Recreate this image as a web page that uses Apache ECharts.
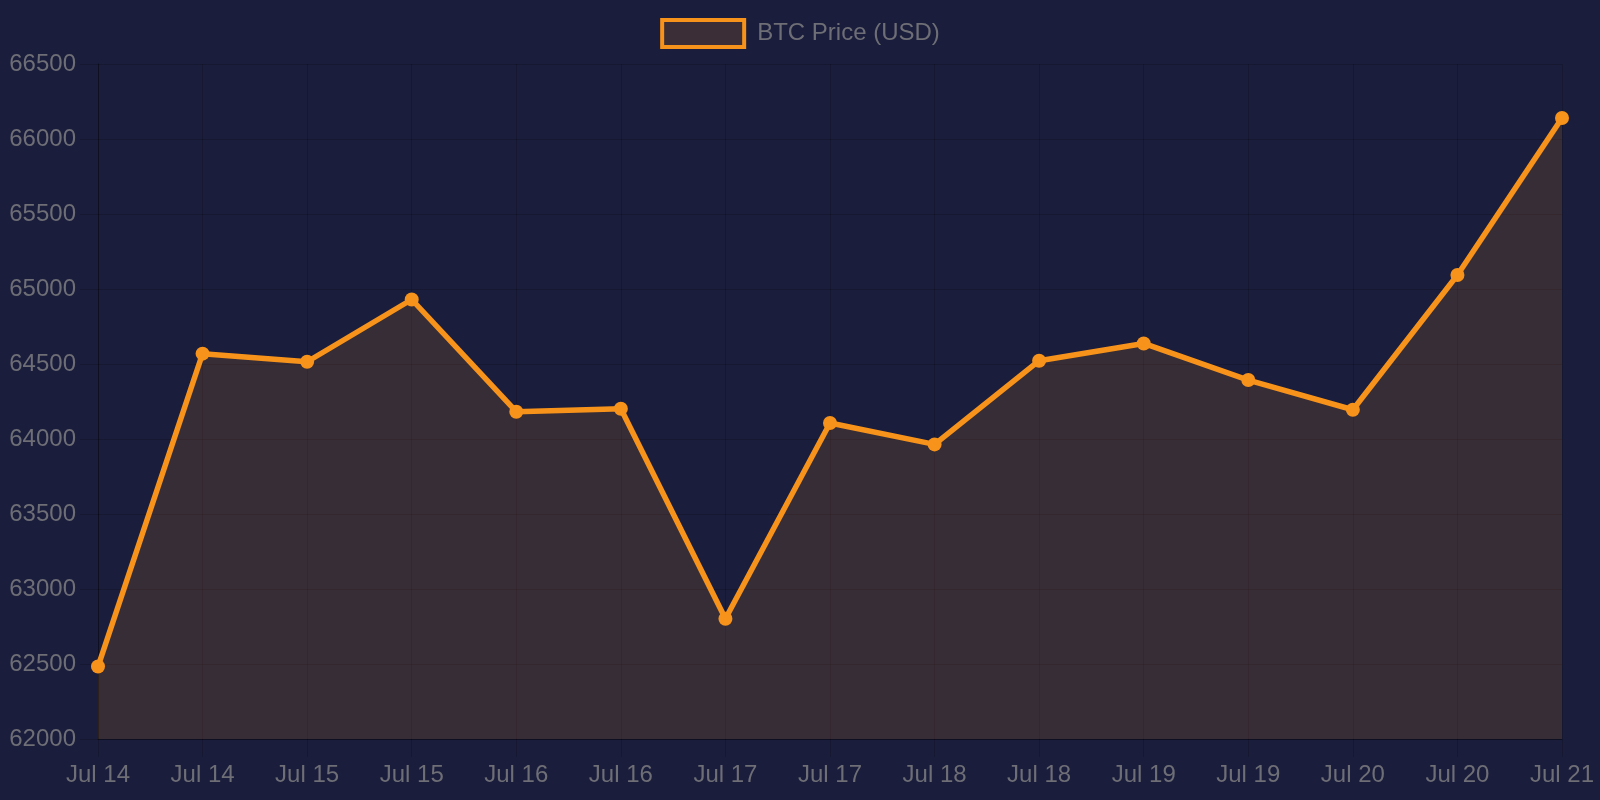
<!DOCTYPE html>
<html>
<head>
<meta charset="utf-8">
<script src="https://cdn.jsdelivr.net/npm/echarts@6/dist/echarts.min.js"></script>
<style>
  html, body { margin: 0; padding: 0; background: #1a1d3b; }
  #chart { width: 1600px; height: 800px; }
</style>
</head>
<body>
<div id="chart"></div>
<script>
const labels = ['Jul 14', 'Jul 14', 'Jul 15', 'Jul 15', 'Jul 16', 'Jul 16', 'Jul 17', 'Jul 17',
  'Jul 18', 'Jul 18', 'Jul 19', 'Jul 19', 'Jul 20', 'Jul 20', 'Jul 21'];
const prices = [62483, 64569, 64515, 64930, 64182, 64202, 62802, 64107,
  63964, 64522, 64637, 64393, 64195, 65093, 66140];

const orange = '#f7931a';
const fill = 'rgba(247, 147, 26, 0.19)';
const grey = '#6e6e76';
const gridCol = 'rgba(0, 0, 0, 0.15)';

var myChart = echarts.init(document.getElementById('chart'), null, { renderer: 'canvas' });

var option = {
  backgroundColor: '#1a1d3b',
  textStyle: { fontFamily: 'Liberation Sans, Arial, sans-serif' },
  legend: {
    top: 13,
    left: 'center',
    itemWidth: 82,
    itemHeight: 27,
    textStyle: { color: grey, fontSize: 24, padding: [0, 0, 0, 8] },
    data: [{
      name: 'BTC Price (USD)',
      icon: 'rect',
      itemStyle: { color: '#3b2e36', borderColor: orange, borderWidth: 4 }
    }]
  },
  grid: { left: 98, right: 38, top: 64, bottom: 61 },
  xAxis: {
    type: 'category',
    data: labels,
    boundaryGap: false,
    axisLine: { lineStyle: { color: 'rgba(0,0,0,0.35)', width: 1 } },
    axisTick: { show: true, length: 18, lineStyle: { color: gridCol } },
    axisLabel: { color: grey, fontSize: 24, margin: 24, interval: 0 },
    splitLine: { show: true, lineStyle: { color: gridCol } }
  },
  yAxis: {
    type: 'value',
    min: 62000,
    max: 66500,
    interval: 500,
    axisLine: { show: true, lineStyle: { color: 'rgba(0,0,0,0.35)', width: 1 } },
    axisTick: { show: true, length: 18, lineStyle: { color: gridCol } },
    axisLabel: { color: grey, fontSize: 24, margin: 22, formatter: v => String(v) },
    splitLine: { show: true, lineStyle: { color: gridCol } }
  },
  series: [{
    name: 'BTC Price (USD)',
    type: 'line',
    data: prices,
    symbol: 'circle',
    symbolSize: 14,
    itemStyle: { color: orange },
    lineStyle: { color: orange, width: 5.5 },
    areaStyle: { color: fill },
    animation: false
  }]
};

myChart.setOption(option);
window.addEventListener('resize', myChart.resize);
</script>
</body>
</html>
